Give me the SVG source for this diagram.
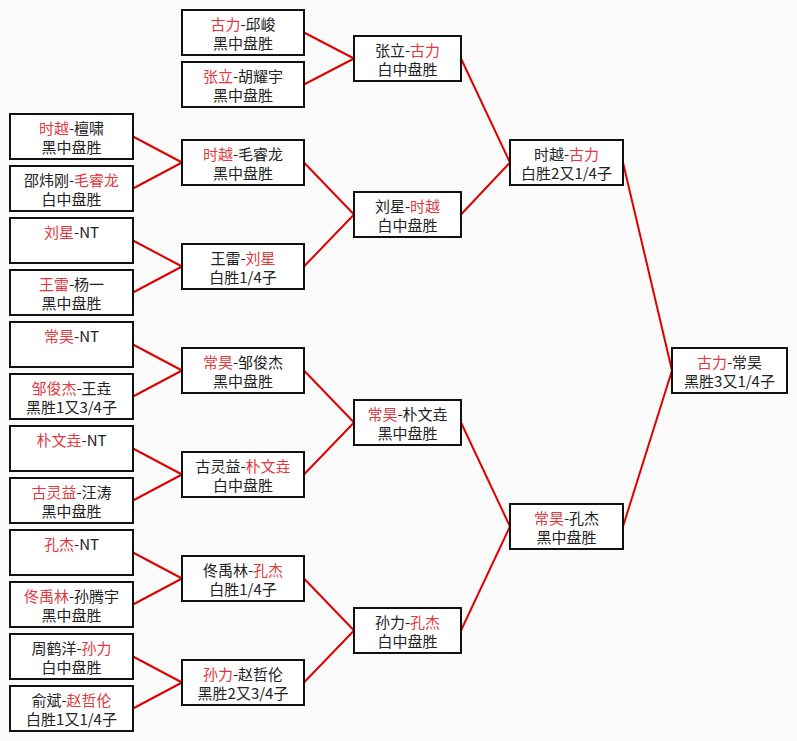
<svg xmlns="http://www.w3.org/2000/svg" width="797" height="741" viewBox="0 0 797 741">
<style>
.bg{fill:#fbfbfb}
.box{fill:#ffffff;stroke:#111111;stroke-width:2}
.t{font-family:"Noto Sans CJK SC","Noto Sans CJK JP",sans-serif;font-size:15px;fill:#222222;text-anchor:middle}
.r{fill:#e2393f}
.c line{stroke:#e00000;stroke-width:2;stroke-linecap:round}
</style>
<rect class="bg" x="0" y="0" width="797" height="741"/>
<g id="connectors" class="c">
<line x1="133" y1="136.5" x2="182" y2="162.5"/>
<line x1="133" y1="188.5" x2="182" y2="162.5"/>
<line x1="133" y1="240.5" x2="182" y2="266.5"/>
<line x1="133" y1="292.5" x2="182" y2="266.5"/>
<line x1="133" y1="344.5" x2="182" y2="370.5"/>
<line x1="133" y1="396.5" x2="182" y2="370.5"/>
<line x1="133" y1="448.5" x2="182" y2="474.5"/>
<line x1="133" y1="500.5" x2="182" y2="474.5"/>
<line x1="133" y1="552.5" x2="182" y2="578.5"/>
<line x1="133" y1="604.5" x2="182" y2="578.5"/>
<line x1="133" y1="656.5" x2="182" y2="682.5"/>
<line x1="133" y1="708.5" x2="182" y2="682.5"/>
<line x1="304" y1="32.5" x2="354" y2="58.5"/>
<line x1="304" y1="84.5" x2="354" y2="58.5"/>
<line x1="304" y1="162.5" x2="354" y2="214.5"/>
<line x1="304" y1="266.5" x2="354" y2="214.5"/>
<line x1="304" y1="370.5" x2="354" y2="422.5"/>
<line x1="304" y1="474.5" x2="354" y2="422.5"/>
<line x1="304" y1="578.5" x2="354" y2="630.5"/>
<line x1="304" y1="682.5" x2="354" y2="630.5"/>
<line x1="461" y1="58.5" x2="510" y2="162.5"/>
<line x1="461" y1="214.5" x2="510" y2="162.5"/>
<line x1="461" y1="422.5" x2="510" y2="526.5"/>
<line x1="461" y1="630.5" x2="510" y2="526.5"/>
<line x1="623" y1="162.5" x2="672" y2="370.5"/>
<line x1="623" y1="526.5" x2="672" y2="370.5"/>
</g>
<g id="n1"><rect class="box" x="10" y="114" width="123" height="45"/><text class="t" x="71.5" y="134"><tspan class="r">时越</tspan>-檀啸</text><text class="t" x="71.5" y="153">黑中盘胜</text></g>
<g id="n2"><rect class="box" x="10" y="166" width="123" height="45"/><text class="t" x="71.5" y="186">邵炜刚-<tspan class="r">毛睿龙</tspan></text><text class="t" x="71.5" y="205">白中盘胜</text></g>
<g id="n3"><rect class="box" x="10" y="218" width="123" height="45"/><text class="t" x="71.5" y="238"><tspan class="r">刘星</tspan>-NT</text></g>
<g id="n4"><rect class="box" x="10" y="270" width="123" height="45"/><text class="t" x="71.5" y="290"><tspan class="r">王雷</tspan>-杨一</text><text class="t" x="71.5" y="309">黑中盘胜</text></g>
<g id="n5"><rect class="box" x="10" y="322" width="123" height="45"/><text class="t" x="71.5" y="342"><tspan class="r">常昊</tspan>-NT</text></g>
<g id="n6"><rect class="box" x="10" y="374" width="123" height="45"/><text class="t" x="71.5" y="394"><tspan class="r">邹俊杰</tspan>-王垚</text><text class="t" x="71.5" y="413">黑胜1又3/4子</text></g>
<g id="n7"><rect class="box" x="10" y="426" width="123" height="45"/><text class="t" x="71.5" y="446"><tspan class="r">朴文垚</tspan>-NT</text></g>
<g id="n8"><rect class="box" x="10" y="478" width="123" height="45"/><text class="t" x="71.5" y="498"><tspan class="r">古灵益</tspan>-汪涛</text><text class="t" x="71.5" y="517">黑中盘胜</text></g>
<g id="n9"><rect class="box" x="10" y="530" width="123" height="45"/><text class="t" x="71.5" y="550"><tspan class="r">孔杰</tspan>-NT</text></g>
<g id="n10"><rect class="box" x="10" y="582" width="123" height="45"/><text class="t" x="71.5" y="602"><tspan class="r">佟禹林</tspan>-孙腾宇</text><text class="t" x="71.5" y="621">黑中盘胜</text></g>
<g id="n11"><rect class="box" x="10" y="634" width="123" height="45"/><text class="t" x="71.5" y="654">周鹤洋-<tspan class="r">孙力</tspan></text><text class="t" x="71.5" y="673">白中盘胜</text></g>
<g id="n12"><rect class="box" x="10" y="686" width="123" height="45"/><text class="t" x="71.5" y="706">俞斌-<tspan class="r">赵哲伦</tspan></text><text class="t" x="71.5" y="725">白胜1又1/4子</text></g>
<g id="r2a"><rect class="box" x="182" y="10" width="122" height="45"/><text class="t" x="243" y="30"><tspan class="r">古力</tspan>-邱峻</text><text class="t" x="243" y="49">黑中盘胜</text></g>
<g id="r2b"><rect class="box" x="182" y="62" width="122" height="45"/><text class="t" x="243" y="82"><tspan class="r">张立</tspan>-胡耀宇</text><text class="t" x="243" y="101">黑中盘胜</text></g>
<g id="r2c"><rect class="box" x="182" y="140" width="122" height="45"/><text class="t" x="243" y="160"><tspan class="r">时越</tspan>-毛睿龙</text><text class="t" x="243" y="179">黑中盘胜</text></g>
<g id="r2d"><rect class="box" x="182" y="244" width="122" height="45"/><text class="t" x="243" y="264">王雷-<tspan class="r">刘星</tspan></text><text class="t" x="243" y="283">白胜1/4子</text></g>
<g id="r2e"><rect class="box" x="182" y="348" width="122" height="45"/><text class="t" x="243" y="368"><tspan class="r">常昊</tspan>-邹俊杰</text><text class="t" x="243" y="387">黑中盘胜</text></g>
<g id="r2f"><rect class="box" x="182" y="452" width="122" height="45"/><text class="t" x="243" y="472">古灵益-<tspan class="r">朴文垚</tspan></text><text class="t" x="243" y="491">白中盘胜</text></g>
<g id="r2g"><rect class="box" x="182" y="556" width="122" height="45"/><text class="t" x="243" y="576">佟禹林-<tspan class="r">孔杰</tspan></text><text class="t" x="243" y="595">白胜1/4子</text></g>
<g id="r2h"><rect class="box" x="182" y="660" width="122" height="45"/><text class="t" x="243" y="680"><tspan class="r">孙力</tspan>-赵哲伦</text><text class="t" x="243" y="699">黑胜2又3/4子</text></g>
<g id="r3a"><rect class="box" x="354" y="36" width="107" height="45"/><text class="t" x="407.5" y="56">张立-<tspan class="r">古力</tspan></text><text class="t" x="407.5" y="75">白中盘胜</text></g>
<g id="r3b"><rect class="box" x="354" y="192" width="107" height="45"/><text class="t" x="407.5" y="212">刘星-<tspan class="r">时越</tspan></text><text class="t" x="407.5" y="231">白中盘胜</text></g>
<g id="r3c"><rect class="box" x="354" y="400" width="107" height="45"/><text class="t" x="407.5" y="420"><tspan class="r">常昊</tspan>-朴文垚</text><text class="t" x="407.5" y="439">黑中盘胜</text></g>
<g id="r3d"><rect class="box" x="354" y="608" width="107" height="45"/><text class="t" x="407.5" y="628">孙力-<tspan class="r">孔杰</tspan></text><text class="t" x="407.5" y="647">白中盘胜</text></g>
<g id="r4a"><rect class="box" x="510" y="140" width="113" height="45"/><text class="t" x="566.5" y="160">时越-<tspan class="r">古力</tspan></text><text class="t" x="566.5" y="179">白胜2又1/4子</text></g>
<g id="r4b"><rect class="box" x="510" y="504" width="113" height="45"/><text class="t" x="566.5" y="524"><tspan class="r">常昊</tspan>-孔杰</text><text class="t" x="566.5" y="543">黑中盘胜</text></g>
<g id="final"><rect class="box" x="672" y="348" width="115" height="45"/><text class="t" x="729.5" y="368"><tspan class="r">古力</tspan>-常昊</text><text class="t" x="729.5" y="387">黑胜3又1/4子</text></g>
</svg>
